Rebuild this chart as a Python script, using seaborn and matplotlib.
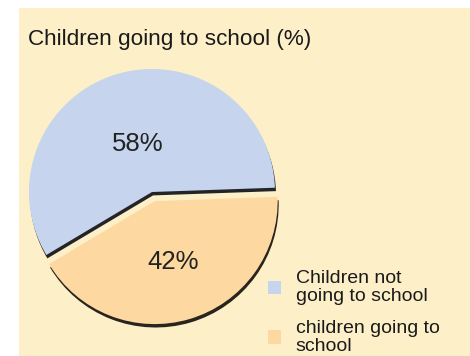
import numpy as np
import matplotlib
matplotlib.use("Agg")
import matplotlib.pyplot as plt
import seaborn as sns
from matplotlib.patches import Rectangle

categories = ["Children not\ngoing to school", "children going to\nschool"]
values = [58, 42]
title = "Children going to school (%)"

colors = ["#C6D4EE", "#FDD9A1"]
panel_color = "#FDEFC8"

sns.set_style("white")
FONT = ["Liberation Sans", "DejaVu Sans"]
plt.rcParams["font.family"] = FONT

W, H = 470, 356
fig = plt.figure(figsize=(W / 100, H / 100), dpi=100)
fig.patch.set_facecolor("white")
fig.patches.append(Rectangle((19 / W, 0), 1, (H - 8) / H, transform=fig.transFigure,
                             facecolor=panel_color, edgecolor="none", zorder=-10))

# axes: pie centre at (152,192) px, radius 1 == 123 px
cx, cy, half = 152, 192, 150
ax = fig.add_axes([(cx - half) / W, (H - cy - half) / H, 2 * half / W, 2 * half / H])
ax.set_facecolor("none")
ax.patch.set_alpha(0)

wedges, texts, autotexts = ax.pie(
    values, colors=sns.color_palette(colors), startangle=2, counterclock=True,
    explode=[0, 0.077], radius=1, autopct="%d%%", pctdistance=0.45,
    wedgeprops=dict(linewidth=0, edgecolor="none"),
    shadow=dict(ox=0.006, oy=-0.02, shade=0.88, alpha=0.95),
    textprops=dict(fontsize=18.5, color="#222222"),
)
radii = [0.41, 0.52]
for w, t, r in zip(wedges, autotexts, radii):
    th = np.deg2rad((w.theta1 + w.theta2) / 2)
    x0, y0 = w.center
    t.set_position((x0 + r * np.cos(th), y0 + r * np.sin(th)))
    t.set_family(FONT)

lim = half / 123
ax.set_xlim(-lim, lim)
ax.set_ylim(-lim, lim)
ax.set_axis_off()

fig.text(28 / W, 1 - 45 / H, title, fontsize=16.2, va="baseline", ha="left",
         color="#1a1a1a", family=FONT)

leg = fig.legend(wedges, categories, loc="upper left",
                 bbox_to_anchor=(268 / W, 1 - 270 / H), frameon=False,
                 handlelength=0.68, handleheight=0.68,
                 handletextpad=0.75, labelspacing=0.75, borderpad=0,
                 borderaxespad=0, prop=dict(family=FONT, size=14))
for t in leg.get_texts():
    t.set_color("#1a1a1a")
    t.set_linespacing(1.08)

fig.savefig("out.png", dpi=100)
